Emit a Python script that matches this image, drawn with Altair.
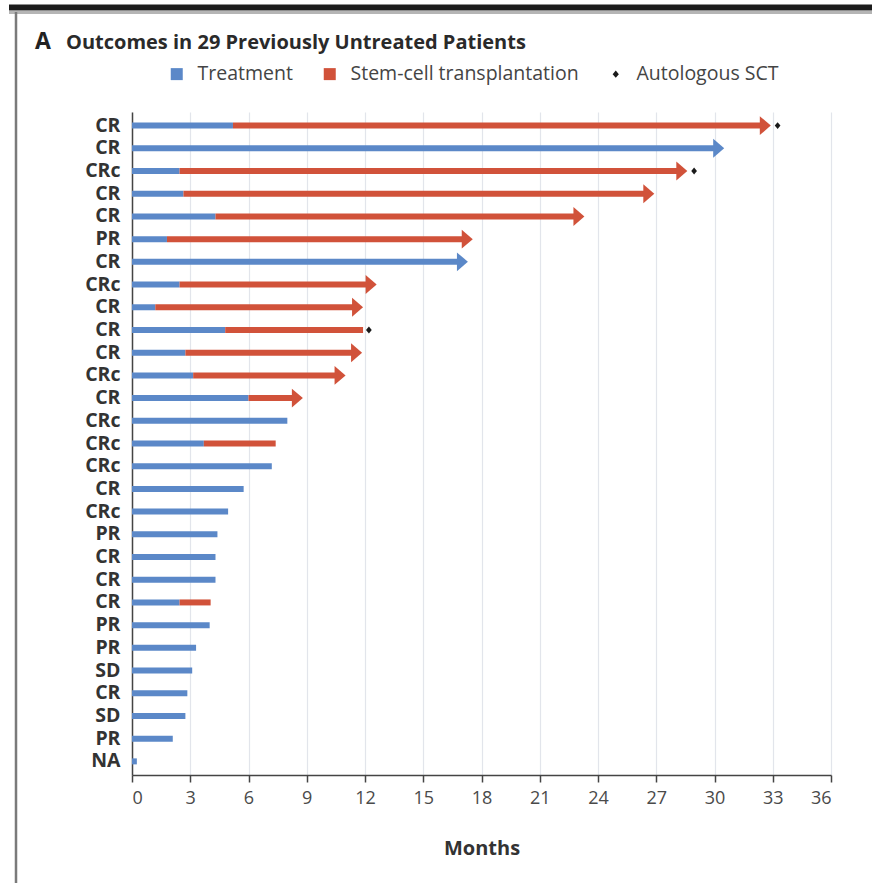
import json

import altair as alt
import pandas as pd

# Best response per patient, top row first
status = ["CR", "CR", "CRc", "CR", "CR", "PR", "CR", "CRc", "CR", "CR",
          "CR", "CRc", "CR", "CRc", "CRc", "CRc", "CR", "CRc", "PR", "CR",
          "CR", "CR", "PR", "PR", "SD", "CR", "SD", "PR", "NA"]

# Months on treatment
treatment_end = [5.2, 30.5, 2.45, 2.65, 4.3, 1.8, 17.3, 2.45, 1.2, 4.8,
                 2.75, 3.15, 6.0, 8.0, 3.7, 7.2, 5.75, 4.95, 4.4, 4.3,
                 4.3, 2.45, 4.0, 3.3, 3.1, 2.85, 2.75, 2.1, 0.25]

# Month at which follow-up after stem-cell transplantation ends (None = no SCT)
sct_end = [32.9, None, 28.6, 26.9, 23.3, 17.55, None, 12.6, 11.9, 11.9,
           11.85, 11.0, 8.8, None, 7.4, None, None, None, None, None,
           None, 4.05, None, None, None, None, None, None, None]

# Still ongoing at data cutoff (drawn with an arrowhead)
ongoing = [True, True, True, True, True, True, True, True, True, False,
           True, True, True, False, False, False, False, False, False, False,
           False, False, False, False, False, False, False, False, False]

# Month of autologous SCT
autologous_sct = [33.25, None, 28.95, None, None, None, None, None, None, 12.2,
                  None, None, None, None, None, None, None, None, None, None,
                  None, None, None, None, None, None, None, None, None]

title_text = "Outcomes in 29 Previously Untreated Patients"
panel_letter = "A"
phases = ["Treatment", "Stem-cell transplantation", "Autologous SCT"]
month_ticks = list(range(0, 37, 3))

BLUE = "#5b88c8"
RED = "#d1523a"
INK = "#333333"
FONT = "Open Sans"
SMALL_DIAMOND = "M0,-0.62L0.52,0L0,0.62L-0.52,0Z"

# Segment table: one row per coloured segment
segments = []
for i in range(len(status)):
    has_sct = sct_end[i] is not None
    segments.append({"row": i, "phase": "Treatment", "start": 0.0,
                     "end": treatment_end[i],
                     "arrow": bool(ongoing[i] and not has_sct)})
    if has_sct:
        segments.append({"row": i, "phase": "Stem-cell transplantation",
                         "start": treatment_end[i], "end": sct_end[i],
                         "arrow": bool(ongoing[i])})
seg_df = pd.DataFrame(segments)

auto_df = pd.DataFrame([{"row": i, "month": m, "phase": "Autologous SCT"}
                        for i, m in enumerate(autologous_sct) if m is not None])

label_expr = json.dumps(status) + "[datum.value]"

y_enc = alt.Y("row:O", sort="ascending",
              scale=alt.Scale(paddingInner=0, paddingOuter=0.1),
              axis=alt.Axis(title=None, labelExpr=label_expr, ticks=False,
                            tickSize=0, labelPadding=12, labelFont=FONT,
                            labelFontSize=19.5, labelFontWeight="bold",
                            labelColor=INK, domainColor="#444444",
                            domainWidth=1.5, grid=False))

x_scale = alt.Scale(domain=[0, 36], nice=False, zero=True)
x_axis = alt.Axis(values=month_ticks, title="Months", labelFont=FONT,
                  labelFontSize=18, labelColor="#4a4a4a", labelPadding=7,
                  tickSize=7, tickColor="#444444", tickWidth=1.5,
                  domainColor="#444444", domainWidth=1.5, grid=True,
                  gridColor="#e2e5eb", gridWidth=1.2, titleFont=FONT,
                  titleFontSize=20, titleFontWeight="bold", titleColor=INK,
                  titlePadding=31)

color_scale = alt.Scale(domain=phases, range=[BLUE, RED, "#1a1a1a"])
shape_scale = alt.Scale(domain=phases, range=["square", "square", SMALL_DIAMOND])

legend = alt.Legend(
    orient="none", legendX=35, legendY=-48, direction="horizontal",
    title=None, padding=0, symbolSize=144, symbolStrokeWidth=0,
    symbolOpacity=1, labelFont=FONT, labelFontSize=19.5, labelLimit=400,
    labelColor="#444444", labelOffset=11, columnPadding=27,
)

color_enc = alt.Color("phase:N", scale=color_scale, legend=legend)

base = alt.Chart(seg_df)

bars_plain = base.transform_filter("!datum.arrow").mark_bar(size=6).encode(
    y=y_enc,
    x=alt.X("start:Q", scale=x_scale, axis=x_axis),
    x2="end:Q",
    color=color_enc,
)

bars_arrow = base.transform_filter("datum.arrow").mark_bar(size=6, x2Offset=-6).encode(
    y=y_enc,
    x=alt.X("start:Q", scale=x_scale, axis=x_axis),
    x2="end:Q",
    color=color_enc,
)

heads = base.transform_filter("datum.arrow").mark_point(
    shape="M-1,-0.86L0,0L-1,0.86Z", size=484, filled=True, opacity=1,
    strokeWidth=0,
).encode(
    y=y_enc,
    x=alt.X("end:Q", scale=x_scale, axis=x_axis),
    color=color_enc,
)

diamonds = alt.Chart(auto_df).mark_point(
    size=121, filled=True, opacity=1, strokeWidth=0,
).encode(
    y=y_enc,
    x=alt.X("month:Q", scale=x_scale, axis=x_axis),
    color=color_enc,
    shape=alt.Shape("phase:N", scale=shape_scale, legend=legend),
)

one = pd.DataFrame({"t": [panel_letter]})

letter = alt.Chart(one).mark_text(
    align="left", baseline="alphabetic", font=FONT, fontSize=23,
    fontWeight="bold", color="#222222",
).encode(x=alt.value(-97), y=alt.value(-63), text="t:N")

heading = alt.Chart(pd.DataFrame({"t": [title_text]})).mark_text(
    align="left", baseline="alphabetic", font=FONT, fontSize=20,
    fontWeight="bold", color="#2a2a2a",
).encode(x=alt.value(-66), y=alt.value(-63), text="t:N")

# Frame: heavy rule across the top and a thin rule down the left side
top_bar = alt.Chart(one).mark_rule(color="#1c1c1c", strokeWidth=6).encode(
    x=alt.value(-123), x2=alt.value(740), y=alt.value(-104.5))
top_shadow = alt.Chart(one).mark_rule(color="#b5b5b5", strokeWidth=3).encode(
    x=alt.value(-123), x2=alt.value(740), y=alt.value(-99.5))
left_rule = alt.Chart(one).mark_rule(color="#7a7a7a", strokeWidth=2.5).encode(
    x=alt.value(-116), y=alt.value(-100), y2=alt.value(771))

chart = alt.layer(
    bars_plain, bars_arrow, heads, diamonds,
    letter, heading, top_shadow, top_bar, left_rule,
).properties(
    width=699, height=663,
    padding={"left": 132, "top": 112, "right": 41, "bottom": 108},
    autosize=alt.AutoSizeParams(type="none"),
    background="white",
).configure_view(stroke=None)

chart.save("out.html", embed_options={"renderer": "svg", "actions": False})
